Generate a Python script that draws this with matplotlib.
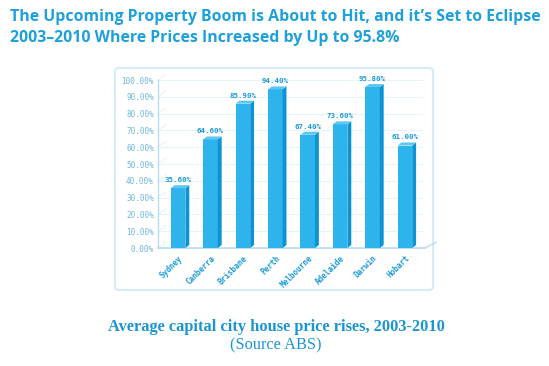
import matplotlib
matplotlib.use("Agg")
import matplotlib.pyplot as plt
from matplotlib.patches import Polygon, FancyBboxPatch

cities = ["Sydney", "Canberra", "Brisbane", "Perth", "Melbourne", "Adelaide", "Darwin", "Hobart"]
rises = [35.6, 64.6, 85.9, 94.4, 67.4, 73.6, 95.8, 61.0]
y_ticks = [0, 10, 20, 30, 40, 50, 60, 70, 80, 90, 100]

front = "#2db4ec"
side = "#0e93d2"
top = "#5cc8f2"
text_blue = "#1a9ad8"
tick_blue = "#6fb8dc"

fig = plt.figure(figsize=(5.49, 3.66), dpi=100)
fig.patch.set_facecolor("white")

# chart frame
frame = FancyBboxPatch((115 / 549, 1 - 290 / 366), (433 - 115) / 549, (290 - 68) / 366,
                       boxstyle="round,pad=0,rounding_size=0.008", transform=fig.transFigure,
                       facecolor="none", edgecolor="#d4ecf8", linewidth=1.5, zorder=-1)
fig.patches.append(frame)

ax = fig.add_axes([158 / 549, 1 - 248 / 366, (425 - 158) / 549, (248 - 80) / 366])
ax.set_xlim(-0.62, 7.62)
ax.set_ylim(0, 100)
ax.set_facecolor("none")

# 3d-ish offsets in data units
dx, dy = 0.12, 1.8
w = 0.45

for y in y_ticks:
    ax.plot([-0.62, 7.62 - 0.1], [y, y], color="#e6f3fb", lw=0.8, zorder=0, clip_on=False)
    ax.plot([-0.62, -0.62 + 0.25], [y, y + 3.5], color="#e6f3fb", lw=0.8, zorder=0, clip_on=False)

# floor
ax.plot([-0.62, 7.62], [0, 0], color="#b8ddf2", lw=1.2, zorder=1, clip_on=False)
ax.plot([7.62, 7.62 + 0.35], [0, 3.5], color="#b8ddf2", lw=1.0, zorder=1, clip_on=False)

for i, v in enumerate(rises):
    x0 = i - w / 2
    x1 = i + w / 2
    ax.bar(i, v, width=w, color=front, zorder=3, edgecolor="none")
    ax.add_patch(Polygon([(x1, 0), (x1 + dx, dy), (x1 + dx, v + dy), (x1, v)],
                         closed=True, facecolor=side, edgecolor="none", zorder=3))
    ax.add_patch(Polygon([(x0, v), (x0 + dx, v + dy), (x1 + dx, v + dy), (x1, v)],
                         closed=True, facecolor=top, edgecolor="none", zorder=3))
    ax.text(i, v + dy + 1.2, f"{v:.2f}%", ha="center", va="bottom",
            fontsize=5.3, fontweight="bold", family="DejaVu Sans Mono", color=text_blue)

ax.set_yticks(y_ticks)
ax.set_yticklabels([f"{t:.2f}%" for t in y_ticks], family="DejaVu Sans Mono",
                   fontsize=5.5, color=tick_blue)
ax.set_xticks(range(len(cities)))
ax.set_xticklabels(cities, rotation=45, ha="right", rotation_mode="anchor",
                   family="DejaVu Sans Mono", fontsize=5.5, fontweight="bold", color=text_blue)
ax.tick_params(axis="both", length=0, pad=3)
ax.tick_params(axis="x", pad=4)
for s in ["top", "right", "bottom"]:
    ax.spines[s].set_visible(False)
ax.spines["left"].set_color("#b8ddf2")
ax.spines["left"].set_linewidth(1.0)

fig.text(10 / 549, 1 - 17 / 366,
         "The Upcoming Property Boom is About to Hit, and it\u2019s Set to Eclipse",
         family="Open Sans", fontweight="bold", fontsize=11.45, color="#1ea0da",
         ha="left", va="center")
fig.text(10 / 549, 1 - 38 / 366,
         "2003\u20132010 Where Prices Increased by Up to 95.8%",
         family="Open Sans", fontweight="bold", fontsize=11.45, color="#1ea0da",
         ha="left", va="center")

fig.text(276 / 549, 1 - 327 / 366, "Average capital city house price rises, 2003-2010",
         family="Liberation Serif", fontweight="bold", fontsize=11.8, color="#1b95d2",
         ha="center", va="center")
fig.text(276 / 549, 1 - 345 / 366, "(Source ABS)",
         family="Liberation Serif", fontsize=11.8, color="#1b95d2",
         ha="center", va="center")

fig.savefig("out.png", dpi=100, facecolor="white")
